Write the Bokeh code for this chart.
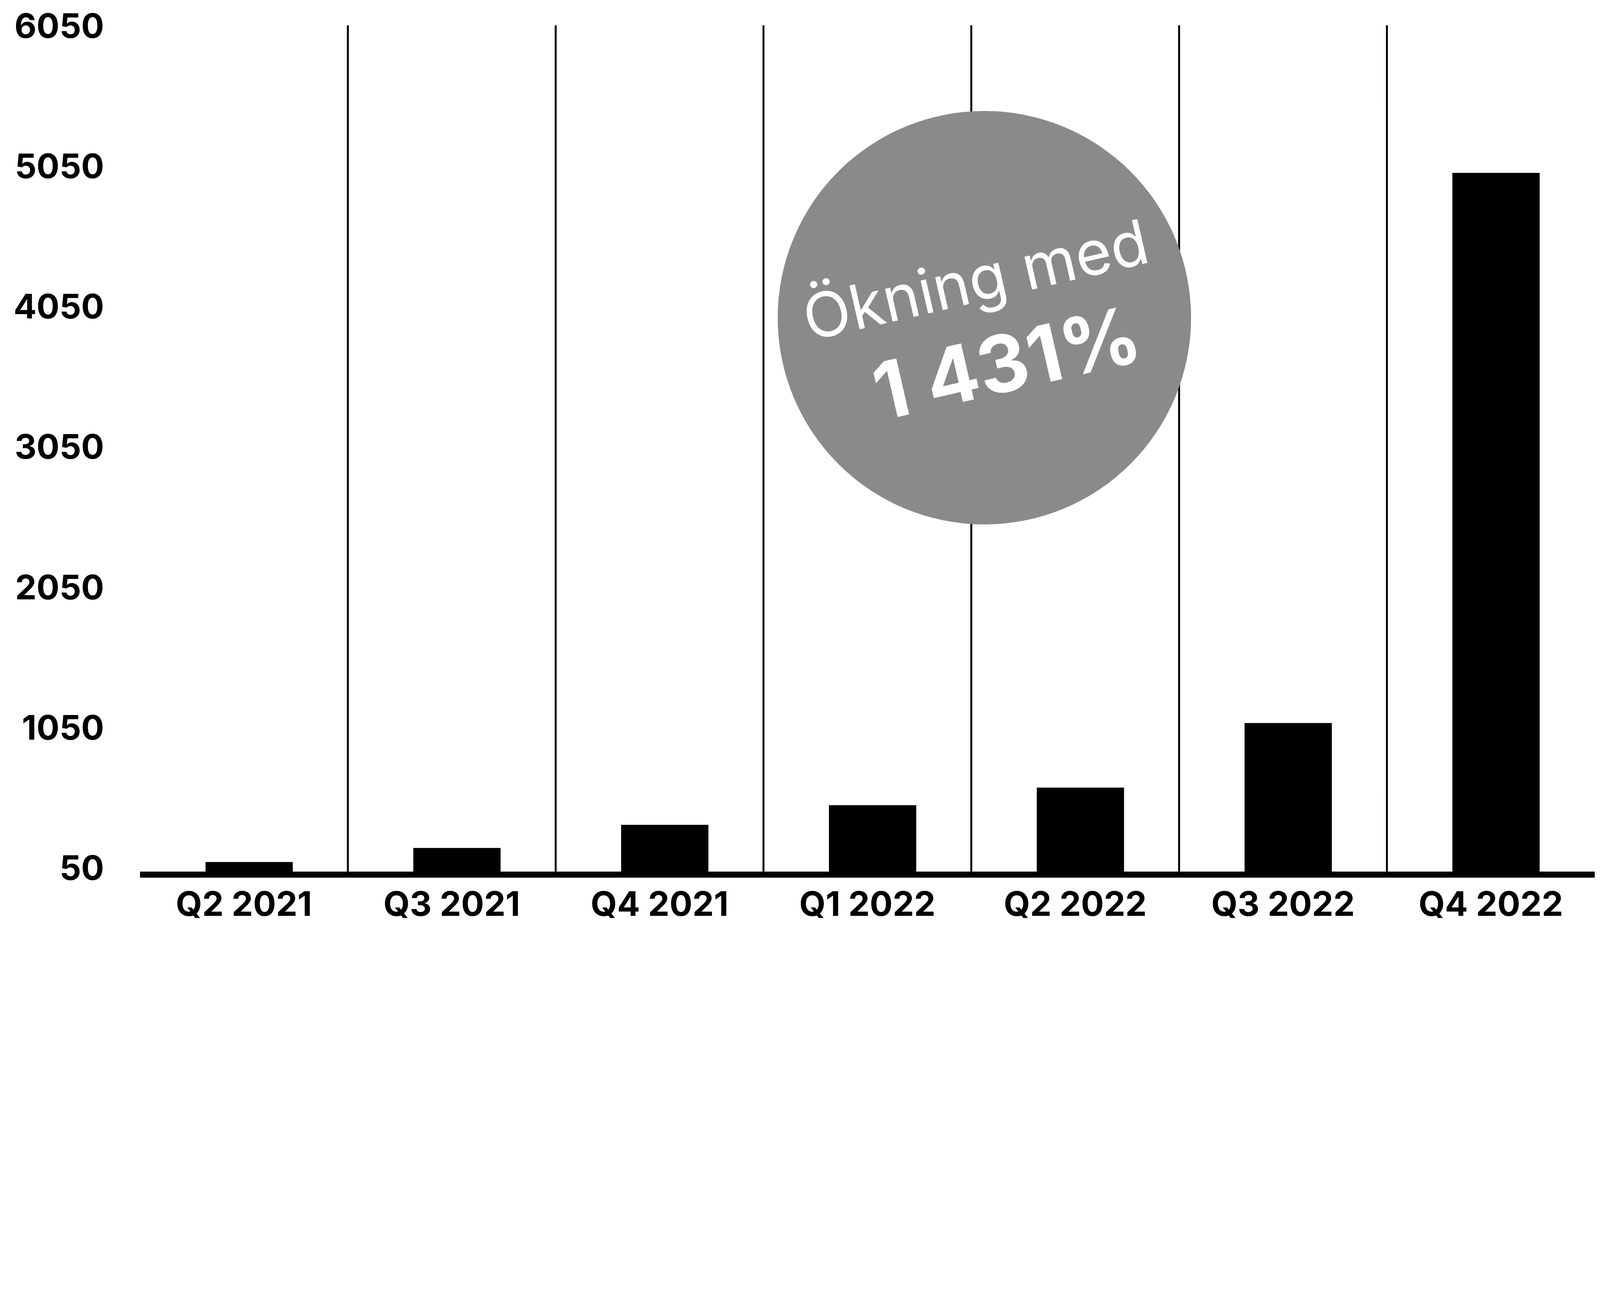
from bokeh.plotting import figure
from bokeh.models import Range1d, FixedTicker
from bokeh.embed import file_html
from bokeh.resources import INLINE
from bokeh.core.properties import value

# ---- data ----
categories = ["Q2 2021", "Q3 2021", "Q4 2021", "Q1 2022", "Q2 2022", "Q3 2022", "Q4 2022"]
values = [90, 190, 355, 495, 620, 1080, 5000]
y_ticks = [50, 1050, 2050, 3050, 4050, 5050, 6050]
badge_line1 = "Ökning med"
badge_line2 = "1 431%"

# ---- layout (screen pixels of the reference divided by the page scale) ----
DPR = 1.408
def px(v):
    return v / DPR

W = int(5783 / DPR) - 18
H = 2400
FRAME_L = px(516) - 8
FRAME_R = px(5759) - 8
FRAME_T = px(102) - 8
FRAME_B = px(3162) - 8
BAR_OFFSET = 0.025

# ---- annotation placement (data coords of the badge) ----
BADGE_X, BADGE_Y, BADGE_D = 4.063, 3968, px(1490)
LINE1_X, LINE1_Y = 4.02, 4240
LINE2_X, LINE2_Y = 4.17, 3650

FONT = "Inter"
n = len(categories)
xs = [i + 0.5 for i in range(n)]

p = figure(width=W, height=H, output_backend="svg", toolbar_location=None,
           x_range=Range1d(0, n), y_range=Range1d(0, 6052),
           min_border_left=int(round(FRAME_L)), min_border_right=int(round(W - FRAME_R)),
           min_border_top=int(round(FRAME_T)), min_border_bottom=int(round(H - FRAME_B)))
p.background_fill_color = "white"
p.border_fill_color = "white"
p.outline_line_color = None

# bars
p.vbar(x=[x + BAR_OFFSET for x in xs], top=values, bottom=0, width=0.42,
       fill_color="black", line_color=None)

# badge
p.scatter(x=[BADGE_X], y=[BADGE_Y], size=BADGE_D, marker="circle",
          fill_color="#8a8a8a", line_color=None)
p.text(x=[LINE1_X], y=[LINE1_Y], text=[badge_line1], angle=13, angle_units="deg",
       text_color="white", text_font=value(FONT), text_font_size=f"{px(222):.0f}px",
       text_font_style="normal", text_align="center", text_baseline="middle")
p.text(x=[LINE2_X], y=[LINE2_Y], text=[badge_line2], angle=13, angle_units="deg",
       text_color="white", text_font=value(FONT), text_font_size=f"{px(285):.0f}px",
       text_font_style="bold", text_align="center", text_baseline="middle")

# grid: vertical separators between categories
p.xgrid.ticker = FixedTicker(ticks=list(range(n + 1)))
p.xgrid.grid_line_color = "black"
p.xgrid.grid_line_width = px(7)
p.ygrid.grid_line_color = None

LABEL_SIZE = f"{px(123):.0f}px"

# x axis
p.xaxis.ticker = FixedTicker(ticks=xs)
p.xaxis.major_label_overrides = {x: c for x, c in zip(xs, categories)}
p.xaxis.axis_line_color = "black"
p.xaxis.axis_line_width = px(22)
p.xaxis.major_tick_line_color = None
p.xaxis.minor_tick_line_color = None
p.xaxis.major_label_text_font = FONT
p.xaxis.major_label_text_font_style = "bold"
p.xaxis.major_label_text_font_size = LABEL_SIZE
p.xaxis.major_label_text_color = "black"
p.xaxis.major_label_standoff = 15

# y axis
p.yaxis.ticker = FixedTicker(ticks=y_ticks)
p.yaxis.axis_line_color = None
p.yaxis.major_tick_line_color = None
p.yaxis.minor_tick_line_color = None
p.yaxis.major_label_text_font = FONT
p.yaxis.major_label_text_font_style = "bold"
p.yaxis.major_label_text_font_size = LABEL_SIZE
p.yaxis.major_label_text_color = "black"
p.yaxis.major_label_standoff = 86

open("out.html", "w").write(file_html(p, INLINE))
